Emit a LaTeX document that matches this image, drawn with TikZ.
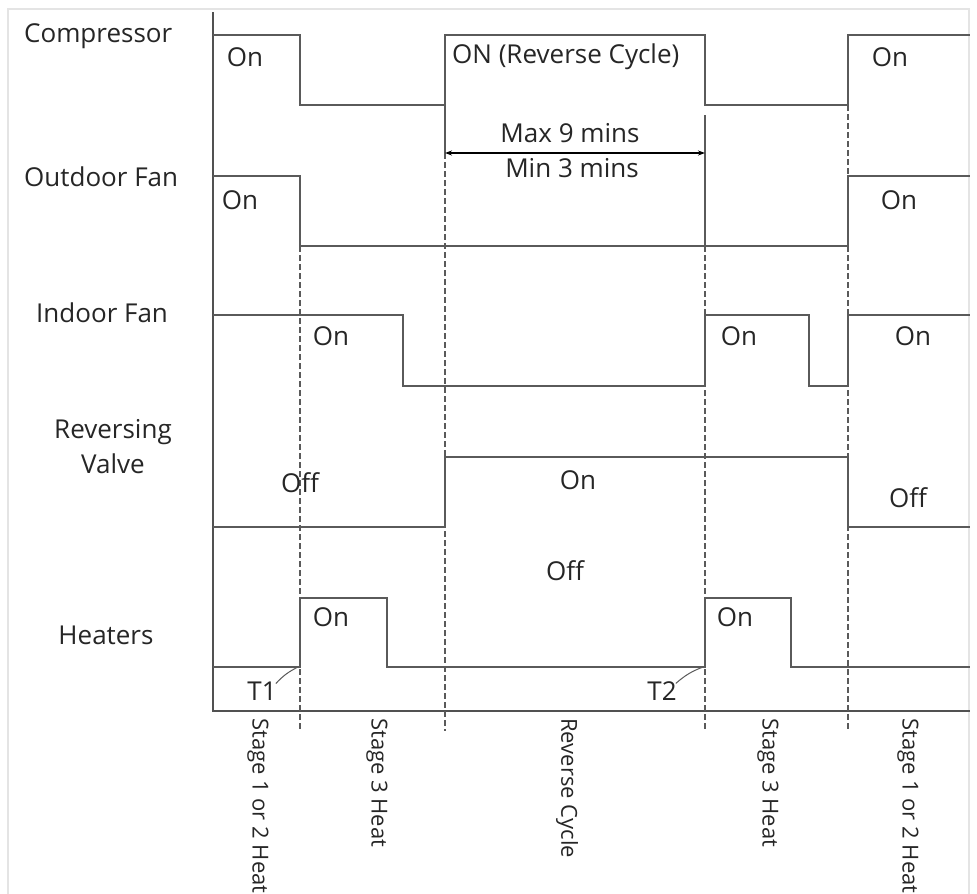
\documentclass[tikz,border=0pt]{standalone}
\usepackage{fontspec}
\setmainfont{Open Sans}
\usetikzlibrary{arrows.meta}
\definecolor{sig}{HTML}{5A5A5A}
\definecolor{frame}{HTML}{E4E4E4}
\begin{document}
\begin{tikzpicture}[x=1pt,y=-1pt,
  sigline/.style={draw=sig,line width=2pt,line join=miter},
  axisline/.style={draw=sig!90!black,line width=2pt},
  guide/.style={draw=sig,line width=1.8pt,dash pattern=on 6pt off 3pt},
  ext/.style={draw=sig,line width=1.8pt},
  lbl/.style={font=\fontsize{26}{29}\selectfont,text=black!85,inner sep=1pt},
  vlbl/.style={font=\fontsize{22}{26}\selectfont,text=black!85,inner sep=1pt,rotate=-90,anchor=west},
  leader/.style={draw=sig,line width=1pt}]
\useasboundingbox (0,0) rectangle (977,894);
\fill[white] (0,0) rectangle (977,894);
\draw[frame,line width=1.2pt] (8,900) -- (8,9) -- (969,9) -- (969,900);

% axes
\coordinate (o) at (213,711);
\draw[axisline] (213,12) -- (o) -- (970,711);

% dashed guides
\draw[guide] (300,246) -- (300,731);
\draw[guide] (445,153) -- (445,731);
\draw[guide] (705,246) -- (705,731);
\draw[guide] (848,105) -- (848,176);
\draw[guide] (848,246) -- (848,731);
\draw[ext] (445,105) -- (445,153);
\draw[ext] (705,115) -- (705,246);

% compressor
\draw[sigline] (213,35) -- (300,35) -- (300,105) -- (445,105) -- (445,35) -- (705,35) -- (705,105) -- (848,105) -- (848,35) -- (970,35);
% outdoor fan
\draw[sigline] (213,176) -- (300,176) -- (300,246) -- (848,246) -- (848,176) -- (970,176);
% indoor fan
\draw[sigline] (213,315) -- (403,315) -- (403,386) -- (705,386) -- (705,315) -- (809,315) -- (809,386) -- (848,386) -- (848,315) -- (970,315);
% reversing valve
\draw[sigline] (213,527) -- (445,527) -- (445,457) -- (848,457) -- (848,527) -- (970,527);
% heaters
\draw[sigline] (213,667) -- (300,667) -- (300,598) -- (387,598) -- (387,667) -- (705,667) -- (705,598) -- (791,598) -- (791,667) -- (970,667);

% max/min arrow
\coordinate (ma) at (445,153);
\coordinate (mb) at (705,153);
\draw[draw=black,line width=1.4pt,{Stealth[length=7pt,width=5pt]}-{Stealth[length=7pt,width=5pt]}] (ma) -- (mb);
\node[lbl,fill=white] (max) at (570,133) {Max 9 mins};
\node[lbl,fill=white] (min) at (572,168) {Min 3 mins};

% left labels
\node[lbl,anchor=west] (comp) at (23,36) {Compressor};
\node[lbl,anchor=west] (ofan) at (23,177) {Outdoor Fan};
\node[lbl,anchor=west] (ifan) at (35,313) {Indoor Fan};
\node[lbl,align=center] (rv) at (113,447) {Reversing\\[6pt]Valve};
\node[lbl] (heat) at (106,635) {Heaters};

% state labels
\node[lbl] (s1) at (245,57) {On};
\node[lbl,anchor=west] (s2) at (451,57) {ON (Reverse Cycle)};
\node[lbl] (s3) at (890,57) {On};
\node[lbl] (s4) at (240,200) {On};
\node[lbl] (s5) at (899,200) {On};
\node[lbl] (s6) at (331,336) {On};
\node[lbl] (s7) at (739,336) {On};
\node[lbl] (s8) at (913,336) {On};
\node[lbl] (s9) at (300,483) {Off};
\node[lbl] (s10) at (578,480) {On};
\node[lbl] (s11) at (565,571) {Off};
\node[lbl] (s12) at (908,498) {Off};
\node[lbl] (s13) at (331,617) {On};
\node[lbl] (s14) at (735,617) {On};

% T1 / T2
\node[lbl] (t1) at (262,691) {T1};
\node[lbl] (t2) at (662,691) {T2};
\coordinate (t1c) at (298,667);
\coordinate (t2c) at (703,667);
\draw[leader] (t1.north east) ++(-2,3) to[bend left=10] (t1c);
\draw[leader] (t2.north east) ++(-2,3) to[bend left=10] (t2c);

% bottom labels
\node[vlbl] (b1) at (258,717) {Stage 1 or 2 Heat};
\node[vlbl] (b2) at (377,717) {Stage 3 Heat};
\node[vlbl] (b3) at (567,717) {Reverse Cycle};
\node[vlbl] (b4) at (768,717) {Stage 3 Heat};
\node[vlbl] (b5) at (908,717) {Stage 1 or 2 Heat};
\end{tikzpicture}
\end{document}
